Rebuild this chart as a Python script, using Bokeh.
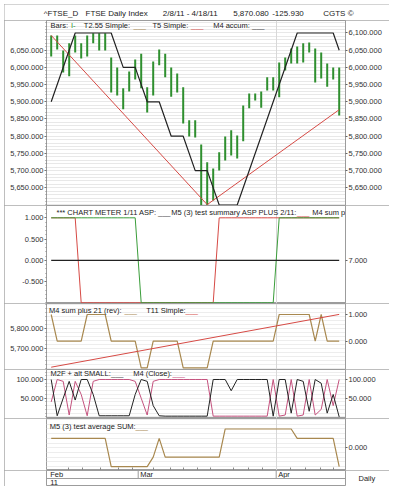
from bokeh.plotting import figure
from bokeh.models import Range1d, LinearAxis, FixedTicker, NumeralTickFormatter, Span, Grid, Spacer
from bokeh.layouts import column, row
from bokeh.embed import file_html
from bokeh.resources import INLINE
from bokeh.core.properties import value

# ---------------- data ----------------
bar_index = list(range(49))
month_names = ["Feb", "Mar", "Apr"]
month_first_bar = [0, 15, 38]
year_label = "11"
date_ticks = [2.9, 5.2, 8.2, 11.2, 13.5, 17.0, 19.9, 22.0, 24.4, 26.5, 30.4, 32.9, 35.2, 39.9, 42.4, 44.9, 47.0]

price_high = [6093, 6093, 6049, 6070, 6093, 6070, 6093, 6099, 6099, 6099,
              6029, 6000, 5939, 5988, 6023, 6040, 5942, 6017, 6052, 6040,
              6000, 5982, 5942, 5846, 5846, 5776, 5724, 5706, 5753, 5799,
              5817, 5802, 5889, 5924, 5924, 5930, 5971, 5971, 6014, 6029,
              6055, 6061, 6070, 6072, 6055, 6043, 6011, 6000, 6000]
price_low = [6032, 6052, 5985, 5974, 6043, 6026, 6032, 6070, 6049, 6049,
             5927, 5918, 5878, 5930, 5965, 5939, 5869, 5918, 6006, 5971,
             5915, 5927, 5837, 5799, 5796, 5599, 5599, 5613, 5700, 5729,
             5744, 5735, 5785, 5881, 5904, 5883, 5933, 5933, 5913, 5991,
             6011, 6011, 6014, 6043, 5956, 5968, 5944, 5965, 5860]

m4_accum_bar = [0, 4, 10, 12, 14, 16, 18, 20, 22, 24, 26, 28, 31, 41, 47, 48]
m4_accum_val = [5900, 6100, 6100, 6000, 6000, 5900, 5900, 5800, 5800, 5700, 5700, 5600, 5600, 6100, 6100, 6050]

t5_bar = [0, 26, 48]
t5_val = [6093, 5601, 5877]

meter_green = [1] * 15 + [-1] * 23 + [1] * 11
meter_red = [1] * 5 + [-1] * 23 + [1] * 21
meter_black = [0] * 49

m4_sum_rev = [1, 0, 0, 0, 0, 0, 1, 1, 1, 1,
              0, 0, 0, 0, 0, -1, -1, 0, 0, 0,
              0, 0, -1, -1, -1, -1, -1, 0, 0, 0,
              0, 0, 0, 0, 0, 0, 0, 0, 1, 1,
              1, 1, 1, 1, 0, 1, 0, 0, 0]
t11_bar = [0, 48]
t11_val = [5608, 5872]

m2f_small = [100, 3, 50, 95, 45, 100, 100, 60, 3, 3,
             3, 3, 3, 3, 60, 100, 95, 30, 3, 2,
             2, 2, 2, 2, 2, 2, 2, 100, 100, 100,
             70, 100, 100, 100, 100, 100, 100, 2, 100, 100,
             10, 100, 95, 15, 100, 90, 10, 60, 0]
m4_close = [40, 100, 95, 5, 95, 60, 3, 95, 100, 100,
            100, 100, 100, 100, 95, 50, 5, 95, 100, 100,
            100, 100, 100, 100, 100, 100, 100, 2, 2, 2,
            2, 2, 2, 2, 2, 2, 2, 100, 2, 5,
            100, 2, 5, 100, 5, 20, 100, 30, 100]

m5_avg_sum = [0.333] * 10 + [-0.667] * 7 + [-0.333, 0.333] + [-0.333] * 10 + [0.667] * 12 + [0.333] * 7 + [-0.667]

# ---------------- styling ----------------
FONT = "Liberation Sans"
FS = "7.5px"
GREEN_BAR = "#2f8f2f"
GREEN_LINE = "#3a9d3a"
RED = "#d64a45"
TAN = "#a8884f"
PINK = "#c4527e"
BLACK = "#222222"
FRAME = "#9c9c9c"
GRID = "#e8e8e8"

W = 385
LB = 42
RB = 44
xr = Range1d(-0.783, 49.05)
CSS = {"outline": "1px solid #a8a8a8", "outline-offset": "-1px"}


def px_x(px):
    return -0.783 + (px - 46) / 6.0


def no_align(p):
    try:
        p.frame_align = False
    except Exception:
        pass
    return p


def panel(h, y0, y1):
    p = figure(width=W, height=h, x_range=xr, y_range=Range1d(y0, y1),
               output_backend="svg", toolbar_location=None,
               x_axis_type=None, y_axis_type=None,
               min_border_left=LB, min_border_right=RB,
               min_border_top=0, min_border_bottom=0,
               outline_line_color=FRAME, outline_line_width=1,
               border_fill_color="white", background_fill_color="white",
               styles=CSS)
    return no_align(p)


def add_axis(p, side, ticks, minor=None, range_name="default"):
    ax = LinearAxis(ticker=FixedTicker(ticks=ticks, minor_ticks=minor or []),
                    formatter=NumeralTickFormatter(format="0,0.000"),
                    y_range_name=range_name,
                    major_label_text_font=FONT, major_label_text_font_size=FS,
                    major_label_text_color="#333333",
                    major_tick_in=0, major_tick_out=2,
                    minor_tick_in=0, minor_tick_out=1 if minor else 0,
                    major_label_standoff=1,
                    axis_line_color=FRAME, major_tick_line_color="#666666",
                    minor_tick_line_color="#888888")
    p.add_layout(ax, side)
    return ax


def hgrid(p, ticks, color=GRID):
    p.add_layout(Grid(dimension=1, ticker=FixedTicker(ticks=ticks), grid_line_color=color))


def vgrid(p):
    p.add_layout(Grid(dimension=0, ticker=FixedTicker(ticks=[month_first_bar[2] - 0.5]),
                      grid_line_color="#d8d8d8"))


def legend(p, items, y, top, h, y0, y1):
    # items: list of (px, text, color); y: centre in page px
    yy = y1 - (y - top) / h * (y1 - y0)
    p.text(x=[px_x(i[0]) for i in items], y=[yy] * len(items), text=[i[1] for i in items],
           text_color=[i[2] for i in items], text_font=value(FONT), text_font_size=FS,
           text_baseline="middle", text_align="left")


# ---------------- title band ----------------
tb = figure(width=W, height=16, x_range=Range1d(0, W), y_range=Range1d(0, 16),
            output_backend="svg", toolbar_location=None, x_axis_type=None, y_axis_type=None,
            min_border=0, min_border_left=0, min_border_right=0, min_border_top=0, min_border_bottom=0,
            outline_line_color=None, styles=CSS)
no_align(tb)
title_px = [43.3, 85, 162.3, 232.7, 271.7, 322.7]
title_txt = ["^FTSE_D", "FTSE Daily Index", "2/8/11 - 4/18/11", "5,870.080", "-125.930", "CGTS \u00a9"]
tb.text(x=[t - 4 for t in title_px], y=[6.7] * 6, text=title_txt, text_font=value(FONT),
        text_font_size="8px", text_color="#222222", text_baseline="middle")

# ---------------- panel 1: price ----------------
P1 = (20, 185, 5598.5, 6136.3)
p1 = panel(185, P1[2], P1[3])
hgrid(p1, list(range(5600, 6140, 10)))
vgrid(p1)
add_axis(p1, "left", list(range(5650, 6051, 50)), list(range(5600, 6140, 10)))
add_axis(p1, "right", list(range(5650, 6101, 50)))
p1.segment(x0=bar_index, y0=price_low, x1=bar_index, y1=price_high, line_color=GREEN_BAR, line_width=2)
p1.line(t5_bar, t5_val, line_color=RED, line_width=1)
p1.line(m4_accum_bar, m4_accum_val, line_color=BLACK, line_width=1.2)
legend(p1, [(50, "Bars:", "#222"), (70.5, "I-", GREEN_BAR), (83.3, "T2.55 Simple:", "#222"),
            (133, "___", TAN), (152, "T5 Simple:", "#222"), (190.5, "___", RED),
            (212.7, "M4 accum:", "#222"), (251.5, "___", "#444")], 25, *P1)

# ---------------- panel 2: chart meter ----------------
P2 = (205, 98, -1.017, 1.290)
p2 = panel(98, P2[2], P2[3])
p2.extra_y_ranges = {"r": Range1d(P2[2] + 7, P2[3] + 7)}
vgrid(p2)
add_axis(p2, "left", [-0.5, 0, 0.5, 1.0], [x / 10 for x in range(-10, 13)])
add_axis(p2, "right", [7], range_name="r")
p2.line(bar_index, meter_red, line_color=RED, line_width=1)
p2.line(bar_index, meter_green, line_color=GREEN_LINE, line_width=1)
p2.line(bar_index, meter_black, line_color=BLACK, line_width=1.2)
legend(p2, [(56, "*** CHART METER 1/11 ASP:", "#222"), (157.5, "___", "#444"),
            (170.7, "M5 (3) test summary ASP PLUS 2/11:", "#222"), (296.5, "___", RED),
            (311.7, "M4 sum plus 21", "#222")], 211.7, *P2)

# ---------------- panel 3 ----------------
P3 = (303, 66, 5596.5, 5926.5)
p3 = panel(66, P3[2], P3[3])
p3.extra_y_ranges = {"r": Range1d(-1.060, 1.412)}
hgrid(p3, list(range(5600, 5921, 20)), "#ededed")
vgrid(p3)
add_axis(p3, "left", [5700, 5800], list(range(5600, 5921, 20)))
add_axis(p3, "right", [0, 1], range_name="r")
p3.line(bar_index, m4_sum_rev, y_range_name="r", line_color=TAN, line_width=1.2)
p3.line(t11_bar, t11_val, line_color=RED, line_width=1)
legend(p3, [(48.5, "M4 sum plus 21 (rev):", "#222"), (124, "___", TAN),
            (145.7, "T11 Simple:", "#222"), (185, "___", RED)], 310, *P3)

# ---------------- panel 4 ----------------
P4 = (369, 49, -4.3, 126.7)
p4 = panel(49, P4[2], P4[3])
hgrid(p4, list(range(0, 121, 10)), "#ededed")
vgrid(p4)
add_axis(p4, "left", [50, 100], list(range(0, 121, 10)))
add_axis(p4, "right", [50, 100])
p4.line(bar_index, m4_close, line_color=PINK, line_width=1)
p4.line(bar_index, m2f_small, line_color=BLACK, line_width=1)
legend(p4, [(50, "M2F + alt SMALL:", "#222"), (110.5, "___", "#444"),
            (132.7, "M4 (Close):", "#222"), (172, "___", PINK)], 373.3, *P4)

# ---------------- panel 5 ----------------
P5 = (418, 52, -0.805, 1.039)
p5 = panel(52, P5[2], P5[3])
hgrid(p5, [x / 6 for x in range(-4, 7)], "#ededed")
vgrid(p5)
add_axis(p5, "right", [0])
date_axis = LinearAxis(ticker=FixedTicker(ticks=date_ticks), major_tick_in=3, major_tick_out=0,
                       major_label_text_font_size="0px", major_label_standoff=0,
                       major_label_overrides={t: "" for t in date_ticks},
                       axis_line_color=None, major_tick_line_color="#888888")
p5.add_layout(date_axis, "below")
p5.line(bar_index, m5_avg_sum, line_color=TAN, line_width=1.2)
legend(p5, [(49.3, "M5 (3) test average SUM:", "#222"), (135, "___", TAN)], 426, *P5)

# ---------------- date band ----------------
db = figure(width=W, height=16, x_range=xr, y_range=Range1d(0, 16),
            output_backend="svg", toolbar_location=None, x_axis_type=None, y_axis_type=None,
            min_border_left=LB, min_border_right=RB, min_border_top=0, min_border_bottom=0,
            outline_line_color=FRAME, styles=CSS)
no_align(db)
bounds = [b - 0.5 for b in month_first_bar]
db.segment(x0=bounds[1:], y0=[8] * 2, x1=bounds[1:], y1=[16] * 2, line_color=FRAME, line_width=1)
db.add_layout(Span(location=8, dimension="width", line_color=FRAME, line_width=1))
db.text(x=[b + 0.33 for b in bounds], y=[12] * 3, text=month_names, text_font=value(FONT),
        text_font_size=FS, text_color="#222", text_baseline="middle")
db.text(x=[bounds[0] + 0.33], y=[3.6], text=[year_label], text_font=value(FONT),
        text_font_size=FS, text_color="#222", text_baseline="middle")
daily = LinearAxis(ticker=FixedTicker(ticks=[8.5]), major_label_overrides={8.5: "Daily"},
                   major_label_text_font=FONT, major_label_text_font_size=FS,
                   major_label_text_color="#222", major_tick_in=0, major_tick_out=0,
                   major_label_standoff=13, axis_line_color=None)
db.add_layout(daily, "right")

stack = column(Spacer(height=4, width=W), tb, p1, p2, p3, p4, p5, db, spacing=0)
layout = row(Spacer(width=4, height=486), stack, spacing=0)
open("out.html", "w").write(file_html(layout, INLINE))
